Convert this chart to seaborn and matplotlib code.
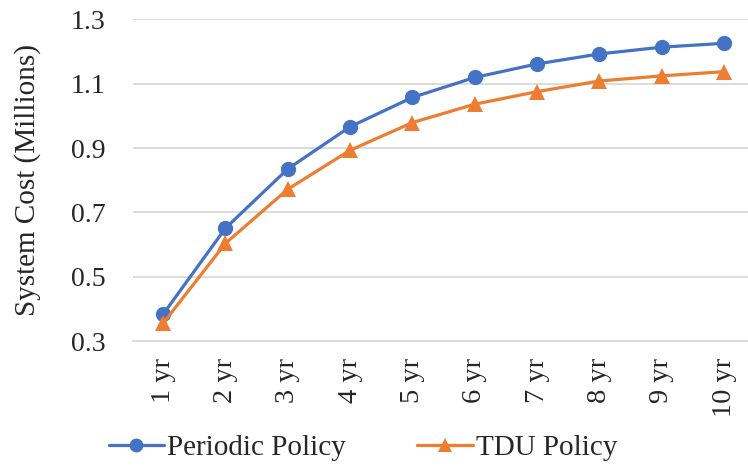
import matplotlib
matplotlib.use("Agg")
import matplotlib.pyplot as plt
import seaborn as sns
import pandas as pd
from matplotlib.lines import Line2D

categories = ["1 yr", "2 yr", "3 yr", "4 yr", "5 yr", "6 yr", "7 yr", "8 yr", "9 yr", "10 yr"]
periodic = [0.384, 0.651, 0.835, 0.966, 1.057, 1.119, 1.161, 1.192, 1.213, 1.225]
tdu = [0.356, 0.604, 0.772, 0.893, 0.979, 1.036, 1.075, 1.108, 1.124, 1.137]
series_names = ["Periodic Policy", "TDU Policy"]
y_ticks = [0.3, 0.5, 0.7, 0.9, 1.1, 1.3]

df = pd.DataFrame({
    "year": categories * 2,
    "cost": periodic + tdu,
    "policy": [series_names[0]] * len(categories) + [series_names[1]] * len(categories),
})

sns.set_theme(style="white")
plt.rcParams["font.family"] = ["Liberation Serif", "DejaVu Serif"]

colors = {"Periodic Policy": "#4472C4", "TDU Policy": "#ED7D31"}
markers = {"Periodic Policy": "o", "TDU Policy": "^"}

fig = plt.figure(figsize=(7.48, 4.67), dpi=100)
ax = fig.add_axes([0.178, 0.269, 0.822, 0.69])

sns.lineplot(data=df, x="year", y="cost", hue="policy", style="policy",
             palette=colors, markers=markers, dashes=False, sort=False,
             linewidth=2.3, markersize=11, markeredgewidth=0, ax=ax, legend=False)

ax.set_ylim(0.3, 1.3)
ax.set_yticks(y_ticks)
ax.set_yticklabels([f"{v:.1f}" for v in y_ticks], fontsize=20)
ax.set_xlim(-0.48, 9.385)
ax.set_xticks(range(len(categories)))
ax.set_xticklabels(categories, rotation=90, fontsize=20.5)
ax.set_xlabel("")
ax.set_ylabel("System Cost (Millions)", fontsize=21, labelpad=21)

ax.grid(axis="y", color="#d9d9d9", linewidth=1.3)
ax.set_axisbelow(True)
for s in ["top", "right", "left"]:
    ax.spines[s].set_visible(False)
ax.spines["bottom"].set_color("#d9d9d9")
ax.spines["bottom"].set_linewidth(1.3)
ax.tick_params(axis="x", direction="inout", length=9.5, color="#d9d9d9", width=1.3, pad=7)
ax.tick_params(axis="y", length=0, pad=20)

handles = [Line2D([0], [0], color=colors[n], marker=markers[n], linewidth=2.3,
                  markersize=10, markeredgewidth=0) for n in series_names]
fig.legend(handles, series_names, loc="center", bbox_to_anchor=(0.485, 0.041), ncol=2,
           frameon=False, fontsize=21, handlelength=1.89, handletextpad=0.1,
           columnspacing=2.47)

fig.savefig("out.png", dpi=100)
